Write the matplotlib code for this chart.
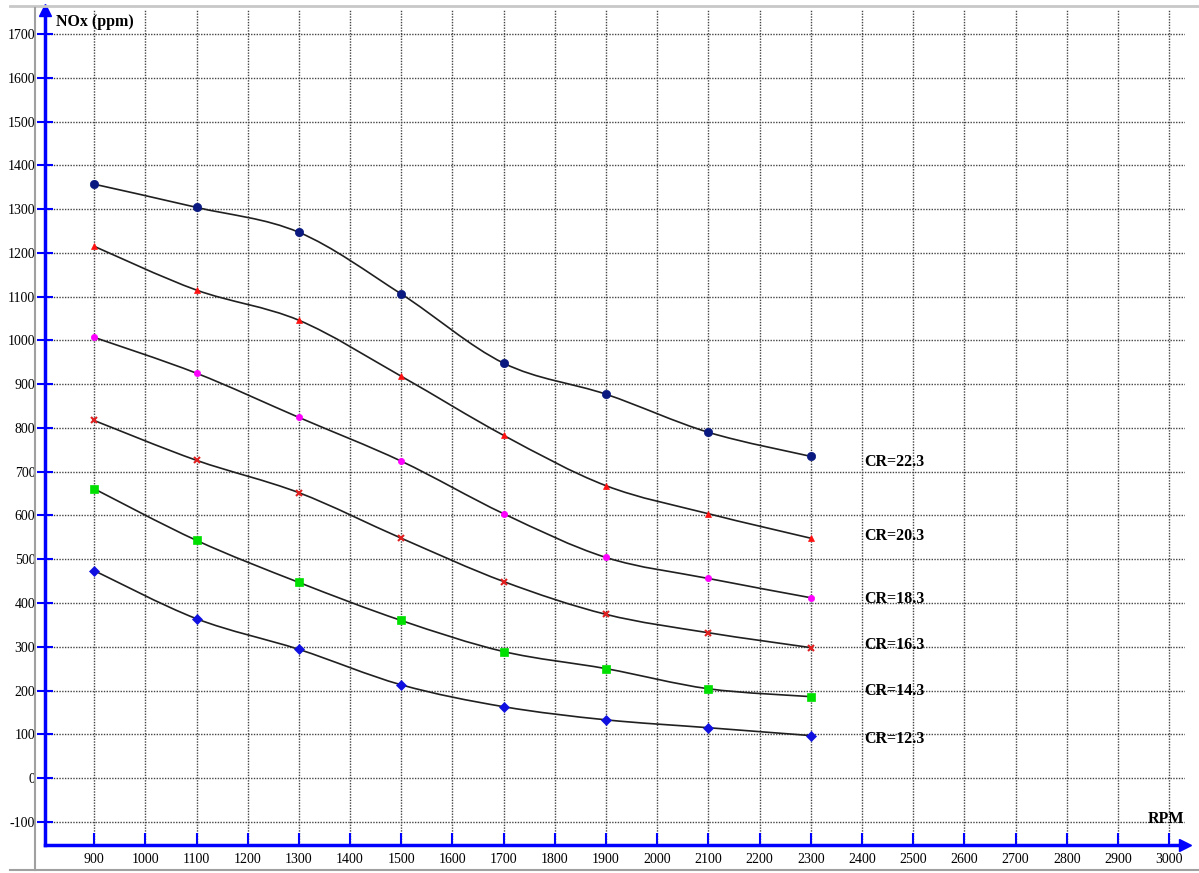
import matplotlib
matplotlib.use("Agg")
import matplotlib.pyplot as plt
from matplotlib.path import Path
from matplotlib.patches import PathPatch
from matplotlib.lines import Line2D

plt.rcParams['font.family'] = ['Liberation Serif', 'DejaVu Serif']
plt.rcParams['axes.unicode_minus'] = False

rpm = [900, 1100, 1300, 1500, 1700, 1900, 2100, 2300]

cr_22 = [1357, 1304, 1247, 1106, 948, 877, 790, 735]
cr_20 = [1215, 1115, 1046, 918, 783, 668, 604, 548]
cr_18 = [1007, 925, 824, 724, 604, 504, 456, 412]
cr_16 = [817, 726, 652, 548, 449, 374, 332, 298]
cr_14 = [661, 543, 447, 360, 289, 250, 204, 186]
cr_12 = [474, 364, 294, 213, 163, 133, 115, 97]

labels = ["CR=22.3", "CR=20.3", "CR=18.3", "CR=16.3", "CR=14.3", "CR=12.3"]
label_y = [723, 554, 410, 305, 200, 90]

series = [cr_22, cr_20, cr_18, cr_16, cr_14, cr_12]
marks = [("o", "#0a1a80", 6), ("^", "#ff1010", 5), ("o", "#ff00ff", 4.5),
         ("x", "#e02020", 4.5), ("s", "#00e000", 5.5), ("D", "#1010e0", 5)]


def smooth_path(xs, ys):
    # catmull-rom style bezier through the points
    verts = [(xs[0], ys[0])]
    codes = [Path.MOVETO]
    n = len(xs)
    for i in range(n - 1):
        x0, y0 = (xs[i - 1], ys[i - 1]) if i > 0 else (xs[i], ys[i])
        x1, y1 = xs[i], ys[i]
        x2, y2 = xs[i + 1], ys[i + 1]
        x3, y3 = (xs[i + 2], ys[i + 2]) if i + 2 < n else (x2, y2)
        c1 = (x1 + (x2 - x0) / 6, y1 + (y2 - y0) / 6)
        c2 = (x2 - (x3 - x1) / 6, y2 - (y3 - y1) / 6)
        verts += [c1, c2, (x2, y2)]
        codes += [Path.CURVE4] * 3
    return Path(verts, codes)


fig = plt.figure(figsize=(11.99, 8.73), dpi=100)
ax = fig.add_axes([45 / 1199, (873 - 845) / 873, (1185 - 45) / 1199, (845 - 10) / 873])

ax.set_xlim(804, 3031)
ax.set_ylim(-153, 1755)

ax.set_xticks(range(900, 3001, 100))
ax.set_yticks(range(-100, 1701, 100))
ax.grid(True, color="#444444", linestyle=(0, (1, 1)), linewidth=1)

for ys, (m, c, s) in zip(series, marks):
    ax.add_patch(PathPatch(smooth_path(rpm, ys), facecolor="none", edgecolor="#202020", lw=1.2, zorder=3))
    ax.plot(rpm, ys, linestyle="none", marker=m, color=c, markersize=s,
            markeredgewidth=1.5 if m == "x" else 0.5, zorder=4)

for t, y in zip(labels, label_y):
    ax.text(2405, y, t, fontsize=11.5, fontweight="bold", va="center", ha="left", zorder=5)

for sp in ["top", "right"]:
    ax.spines[sp].set_visible(False)
for sp in ["left", "bottom"]:
    ax.spines[sp].set_color("#0000ff")
    ax.spines[sp].set_linewidth(2.5)

ax.tick_params(axis="y", direction="inout", length=12, color="#0000ff", width=1.5, labelsize=10, pad=1)
ax.tick_params(axis="x", direction="in", length=9, color="#0000ff", width=1.5, labelsize=10, pad=6)

# arrows at the axis ends
ax.plot(1, 0, ">", color="#0000ff", markersize=9, transform=ax.transAxes, clip_on=False)
ax.plot(0, 1, "^", color="#0000ff", markersize=9, transform=ax.transAxes, clip_on=False)

ax.text(0.01, 0.995, "NOx (ppm)", transform=ax.transAxes, fontsize=11.5, fontweight="bold", va="top", ha="left")
ax.text(0.999, 0.022, "RPM", transform=ax.transAxes, fontsize=11.5, fontweight="bold", va="bottom", ha="right")

# gray frame lines of the window
fig.add_artist(Line2D([10 / 1199, 1], [1 - 6 / 873, 1 - 6 / 873], color="#c8c8c8", lw=2))
fig.add_artist(Line2D([35 / 1199, 35 / 1199], [1 - 8 / 873, 3 / 873], color="#a0a0a0", lw=1.5))
fig.add_artist(Line2D([10 / 1199, 1], [3 / 873, 3 / 873], color="#a0a0a0", lw=1.5))

fig.savefig("out.png", dpi=100)
